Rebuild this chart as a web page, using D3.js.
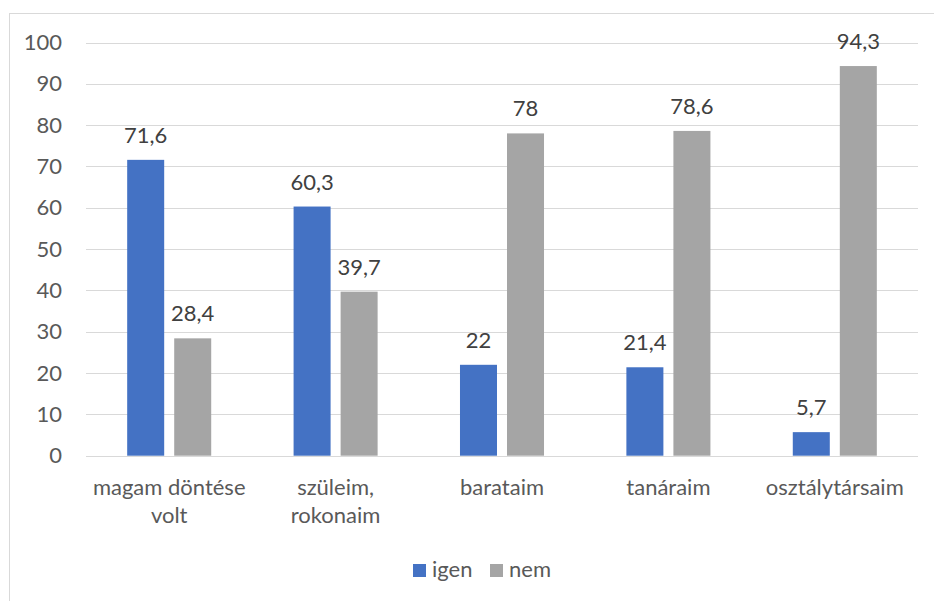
<!DOCTYPE html>
<html>
<head>
<meta charset="utf-8">
<script src="https://cdn.jsdelivr.net/npm/d3@7"></script>
<style>
  body { margin: 0; background: #fff; }
  svg text { font-family: Lato, "Open Sans", sans-serif; }
</style>
</head>
<body>
<script>
const categories = ["magam döntése\nvolt", "szüleim,\nrokonaim", "barataim", "tanáraim", "osztálytársaim"];
const seriesNames = ["igen", "nem"];
const igen = [71.6, 60.3, 22, 21.4, 5.7];
const nem = [28.4, 39.7, 78, 78.6, 94.3];
const yTicks = [0, 10, 20, 30, 40, 50, 60, 70, 80, 90, 100];
const colors = ["#4472c4", "#a5a5a5"];

const width = 934, height = 601;
const margin = { left: 86, right: 16, top: 42.5, bottom: 145.3 };
const fontSize = 22;

const svg = d3.select("body").append("svg")
  .attr("width", width)
  .attr("height", height);

// chart frame (only left/top visible in the picture)
svg.append("rect")
  .attr("x", 9.5).attr("y", 13.5)
  .attr("width", 940).attr("height", 600)
  .attr("fill", "none")
  .attr("stroke", "#d9d9d9");

const x = d3.scaleBand()
  .domain(categories)
  .range([margin.left, width - margin.right])
  .paddingInner(0.495)
  .paddingOuter(0.2475);

const xInner = d3.scaleBand()
  .domain(seriesNames)
  .range([0, x.bandwidth()])
  .paddingInner(0.213);

const y = d3.scaleLinear()
  .domain([0, 100])
  .range([height - margin.bottom, margin.top]);

const fmt = d3.formatLocale({ decimal: ",", thousands: " ", grouping: [3], currency: ["", ""] }).format("~r");

// gridlines
svg.append("g")
  .selectAll("line")
  .data(yTicks)
  .join("line")
  .attr("x1", margin.left)
  .attr("x2", width - margin.right)
  .attr("y1", d => Math.round(y(d)) + 0.5)
  .attr("y2", d => Math.round(y(d)) + 0.5)
  .attr("stroke", "#d9d9d9")
  .attr("stroke-width", 1.2);

// y axis labels
const yAxis = d3.axisLeft(y).tickValues(yTicks).tickSize(0).tickPadding(24);
svg.append("g")
  .attr("transform", `translate(${margin.left},0)`)
  .call(yAxis)
  .call(g => g.select(".domain").remove())
  .call(g => g.selectAll("text")
    .attr("font-size", fontSize)
    .attr("fill", "#595959")
    .style("font-family", "Lato, sans-serif"));

const data = categories.map((c, i) => ({ cat: c, values: [
  { key: "igen", value: igen[i] },
  { key: "nem", value: nem[i] }
]}));

const groups = svg.append("g")
  .selectAll("g")
  .data(data)
  .join("g")
  .attr("transform", d => `translate(${x(d.cat)},0)`);

groups.selectAll("rect")
  .data(d => d.values)
  .join("rect")
  .attr("x", d => xInner(d.key))
  .attr("y", d => y(d.value))
  .attr("width", xInner.bandwidth())
  .attr("height", d => y(0) - y(d.value))
  .attr("fill", (d, i) => colors[i]);

groups.selectAll("text.lbl")
  .data(d => d.values)
  .join("text")
  .attr("class", "lbl")
  .attr("x", d => xInner(d.key) + xInner.bandwidth() / 2)
  .attr("y", d => y(d.value) - 17)
  .attr("text-anchor", "middle")
  .attr("font-size", fontSize)
  .attr("fill", "#404040")
  .text(d => fmt(d.value));

// category labels
const catG = svg.append("g");
categories.forEach(c => {
  const t = catG.append("text")
    .attr("x", x(c) + x.bandwidth() / 2)
    .attr("y", y(0) + 39)
    .attr("text-anchor", "middle")
    .attr("font-size", fontSize)
    .attr("fill", "#595959");
  c.split("\n").forEach((line, j) => {
    t.append("tspan")
      .attr("x", x(c) + x.bandwidth() / 2)
      .attr("dy", j === 0 ? 0 : 28)
      .text(line);
  });
});

// legend
const legend = svg.append("g").attr("transform", "translate(413,564)");
const legendX = [0, 77];
seriesNames.forEach((s, i) => {
  const g = legend.append("g").attr("transform", `translate(${legendX[i]},0)`);
  g.append("rect").attr("width", 13).attr("height", 13).attr("fill", colors[i]);
  g.append("text")
    .attr("x", 19).attr("y", 13)
    .attr("font-size", fontSize)
    .attr("fill", "#595959")
    .text(s);
});
</script>
</body>
</html>
